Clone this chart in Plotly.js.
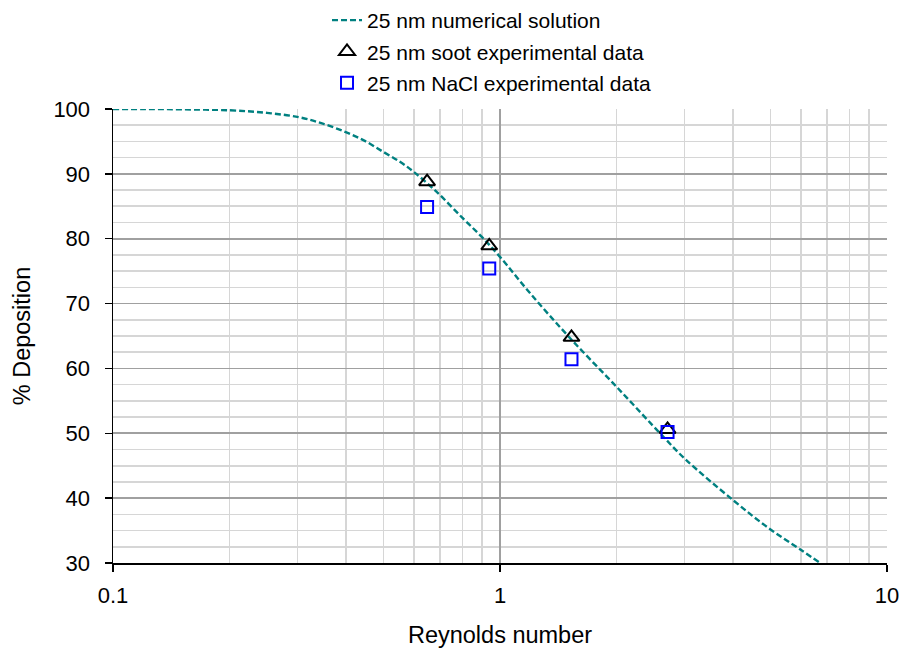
<!DOCTYPE html>
<html>
<head>
<meta charset="utf-8">
<script src="https://cdn.plot.ly/plotly-3.0.1.min.js"></script>
<style>html,body{margin:0;padding:0;background:#fff;}#chart{width:901px;height:648px;}</style>
</head>
<body>
<div id="chart"></div>
<script>
// Numerical solution (25 nm)
const reNum = [0.1, 0.12, 0.15, 0.2, 0.25, 0.304, 0.35, 0.401, 0.45, 0.499, 0.55, 0.596, 0.684, 0.8, 0.9, 1.0, 1.2, 1.516, 2.02, 2.64, 3.0, 4.0, 4.94, 6.0, 6.72];
const depNum = [100, 100, 99.95, 99.8, 99.4, 98.7, 97.7, 96.4, 95.0, 93.4, 91.9, 90.4, 87.3, 83.2, 80.2, 77.2, 71.5, 64.7, 56.9, 49.5, 46.1, 39.7, 35.4, 32.0, 30.0];

// Experimental data
const reSoot = [0.648, 0.938, 1.53, 2.71];
const depSoot = [88.8, 78.9, 64.8, 50.6];
const reNaCl = [0.648, 0.938, 1.53, 2.71];
const depNaCl = [84.9, 75.4, 61.4, 50.2];

const xTickVals = [0.1, 1, 10];
const xTickText = ['0.1', '1', '10'];
const yTickVals = [30, 40, 50, 60, 70, 80, 90, 100];

const names = ['25 nm numerical solution', '25 nm soot experimental data', '25 nm NaCl experimental data'];

const FONT = 'Liberation Sans, Arial, sans-serif';

const traces = [
  {x: reNum, y: depNum, type: 'scatter', mode: 'lines', name: names[0], legendgroup: 'a',
   line: {color: '#008080', width: 2.4, dash: '6px,3px', shape: 'spline'}},
  {x: reSoot, y: depSoot, type: 'scatter', mode: 'markers', name: names[1], legendgroup: 'b',
   marker: {symbol: 'triangle-up-open', size: 14, color: '#000', line: {width: 2, color: '#000'}}},
  {x: reNaCl, y: depNaCl, type: 'scatter', mode: 'markers', name: names[2], legendgroup: 'c',
   marker: {symbol: 'square-open', size: 12, color: '#0000ff', line: {width: 2, color: '#0000ff'}}}
];

const layout = {
  width: 901, height: 648,
  margin: {l: 113, r: 14, t: 109, b: 85},
  paper_bgcolor: '#fff', plot_bgcolor: '#fff',
  font: {family: FONT, size: 21, color: '#000'},
  showlegend: true,
  legend: {xref: 'paper', yref: 'container', x: 0.2765, xanchor: 'left', y: 1.0, yanchor: 'top',
           orientation: 'v', traceorder: 'grouped', tracegroupgap: 1, bgcolor: 'rgba(0,0,0,0)',
           font: {family: FONT, size: 21, color: '#000'}},
  xaxis: {
    type: 'log', range: [-1, 1], automargin: false,
    tickmode: 'array', tickvals: xTickVals, ticktext: xTickText,
    ticks: 'outside', ticklen: 7, tickcolor: '#000', tickwidth: 1.5,
    ticklabelstandoff: 5,
    showline: true, linecolor: '#000', linewidth: 1.5,
    showgrid: true, gridcolor: '#a0a0a0', gridwidth: 1.6,
    minor: {dtick: 'D1', showgrid: true, gridcolor: '#d6d6d6', gridwidth: 1.6, ticks: ''},
    zeroline: false,
    tickfont: {family: FONT, size: 22, color: '#000'},
    title: {text: 'Reynolds number', font: {family: FONT, size: 23.5, color: '#000'}, standoff: 20}
  },
  yaxis: {
    range: [30, 100], automargin: false,
    tickmode: 'array', tickvals: yTickVals,
    ticks: 'outside', ticklen: 7, tickcolor: '#000', tickwidth: 1.5,
    ticklabelstandoff: 10,
    showline: true, linecolor: '#000', linewidth: 1.5,
    showgrid: true, gridcolor: '#a0a0a0', gridwidth: 1.6,
    minor: {dtick: 2.5, showgrid: true, gridcolor: '#d6d6d6', gridwidth: 1.6, ticks: ''},
    zeroline: false,
    tickfont: {family: FONT, size: 22, color: '#000'},
    title: {text: '% Deposition', font: {family: FONT, size: 23.5, color: '#000'}, standoff: 16}
  }
};

Plotly.newPlot('chart', traces, layout, {staticPlot: true, displayModeBar: false});
</script>
</body>
</html>
